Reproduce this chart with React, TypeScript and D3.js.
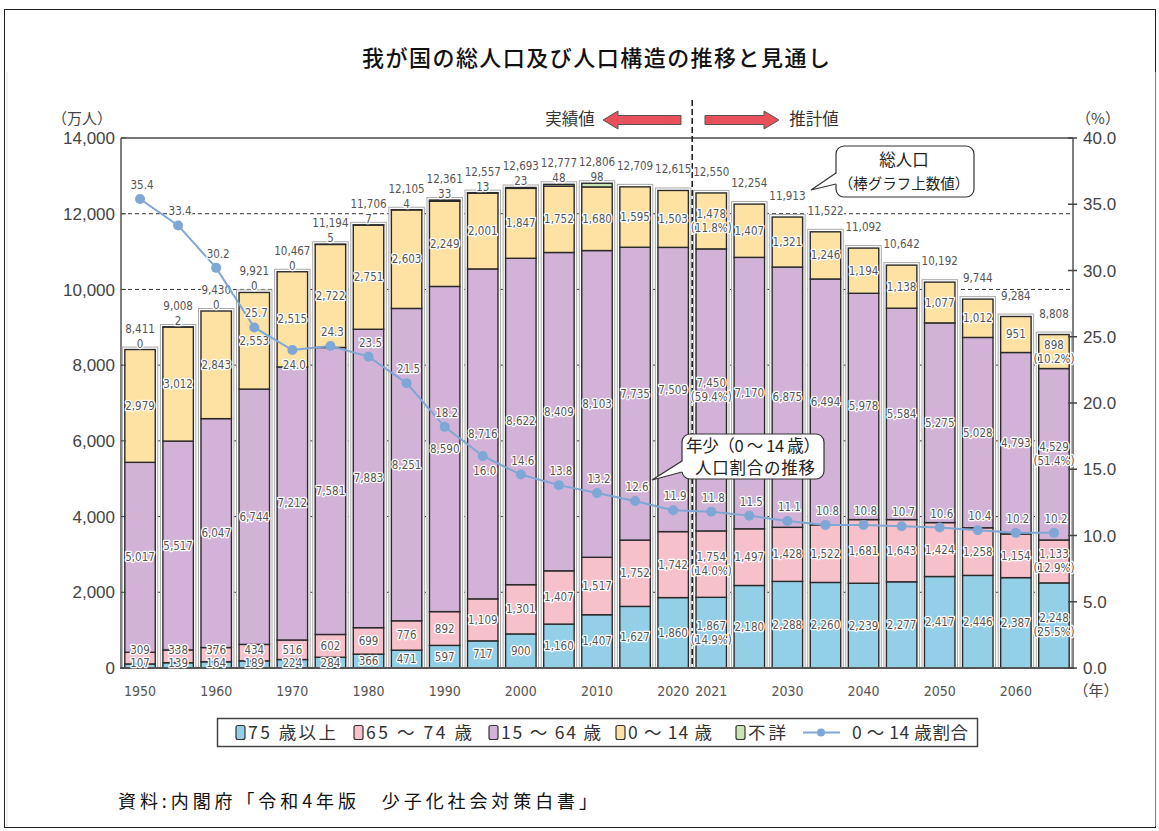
import React from 'react';
import * as d3 from 'd3';

const years = ['1950','1955','1960','1965','1970','1975','1980','1985','1990','1995','2000','2005','2010','2015','2020','2021','2025','2030','2035','2040','2045','2050','2055','2060','2065'];
const xTickLabels = ['1950','1960','1970','1980','1990','2000','2010','2020','2021','2030','2040','2050','2060'];
const age75plus = [107,139,164,189,224,284,366,471,597,717,900,1160,1407,1627,1860,1867,2180,2288,2260,2239,2277,2417,2446,2387,2248];
const age65to74 = [309,338,376,434,516,602,699,776,892,1109,1301,1407,1517,1752,1742,1754,1497,1428,1522,1681,1643,1424,1258,1154,1133];
const age15to64 = [5017,5517,6047,6744,7212,7581,7883,8251,8590,8716,8622,8409,8103,7735,7509,7450,7170,6875,6494,5978,5584,5275,5028,4793,4529];
const age0to14 = [2979,3012,2843,2553,2515,2722,2751,2603,2249,2001,1847,1752,1680,1595,1503,1478,1407,1321,1246,1194,1138,1077,1012,951,898];
const unknownAge: (number | null)[] = [0,2,0,0,0,5,7,4,33,13,23,48,98,null,null,null,null,null,null,null,null,null,null,null,null];
const totals = [8411,9008,9430,9921,10467,11194,11706,12105,12361,12557,12693,12777,12806,12709,12615,12550,12254,11913,11522,11092,10642,10192,9744,9284,8808];
const youthRatio = [35.4,33.4,30.2,25.7,24.0,24.3,23.5,21.5,18.2,16.0,14.6,13.8,13.2,12.6,11.9,11.8,11.5,11.1,10.8,10.8,10.7,10.6,10.4,10.2,10.2];
const ratioLabelBelow = ['1970','1995'];
const shareLabels: Record<string, string[]> = {
  '2021': ['14.9%','14.0%','59.4%','11.8%'],
  '2065': ['25.5%','12.9%','51.4%','10.2%'],
};
const yTicks = [0,2000,4000,6000,8000,10000,12000,14000];
const y2Ticks = [0,5,10,15,20,25,30,35,40];
const dashedGrid = [2000,4000,6000,8000,10000,12000];

const seriesNames = ['75 歳以上','65 ～ 74 歳','15 ～ 64 歳','0 ～ 14 歳','不詳'];
const lineName = '0 ～ 14 歳割合';
const seriesColors = ['#93cfe7','#f7c1cb','#d3b2d8','#fde2a4','#c8e4b2'];
const lineColor = '#7ea7d6';

const NUM = "'DejaVu Sans Condensed','DejaVu Sans',sans-serif";
const JP = "'Noto Sans CJK JP','Noto Sans',sans-serif";
const AX = "'Liberation Sans',Arial,sans-serif";

const fmt = d3.format(',');

export default function App() {
  const W = 1159, H = 831;
  const L = 121, R = 1073, T = 138, B = 668;
  const x = d3.scaleBand<string>().domain(years).range([L, R]).paddingInner(0.2).paddingOuter(0.1);
  const y = d3.scaleLinear().domain([0, 14000]).range([B, T]);
  const y2 = d3.scaleLinear().domain([0, 40]).range([B, T]);
  const bw = x.bandwidth();

  const rows = years.map((yr, i) => ({
    year: yr,
    s0: age75plus[i], s1: age65to74[i], s2: age15to64[i], s3: age0to14[i], s4: unknownAge[i] ?? 0,
  }));
  const stack = d3.stack<any>().keys(['s0','s1','s2','s3','s4'])(rows);

  const line = d3.line<number>().x((_, i) => (x(years[i]) as number) + bw / 2).y(d => y2(d));

  const halo = { stroke: '#fff', strokeWidth: 2.6, paintOrder: 'stroke' as any, strokeLinejoin: 'round' as any };
  const numStyle = { fontFamily: NUM, fontSize: 11.5, fill: '#555', fontStretch: 'condensed' as any };
  const jpLabel = { fontFamily: JP, fontSize: 16.5, fill: '#333' };

  const dividerX = ((x('2020') as number) + bw + (x('2021') as number)) / 2;

  const legendSwatchX = [236, 354, 489, 616, 736];
  const legendTextLen = [88, 106, 100, 84, 38];

  return (
    <svg width={W} height={H} style={{ display: 'block', position: 'absolute', left: 0, top: 0 }}>
      <rect x={0} y={0} width={W} height={H} fill="#fff" />
      <rect x={4.5} y={9.5} width={1151} height={818} fill="none" stroke="#222" strokeWidth={1} />
      <line x1={7} y1={72} x2={7} y2={826} stroke="#e4e4e4" />
      <line x1={1156} y1={72} x2={1156} y2={826} stroke="#e4e4e4" />

      {/* title */}
      <text x={362} y={66} textLength={468} lengthAdjust="spacing" style={{ fontFamily: JP, fontSize: 22, fontWeight: 500, fill: '#111' }}>我が国の総人口及び人口構造の推移と見通し</text>

      {/* axis titles */}
      <text x={82} y={124} textAnchor="middle" style={{ fontFamily: JP, fontSize: 15, fill: '#444' }}>（万人）</text>
      <text x={1098} y={124} textAnchor="middle" style={{ fontFamily: JP, fontSize: 15, fill: '#444' }}>（%）</text>
      <text x={1096} y={696} textAnchor="middle" style={{ fontFamily: JP, fontSize: 15, fill: '#444' }}>（年）</text>

      {/* gridlines */}
      {dashedGrid.map(v => (
        <line key={v} x1={L} x2={R} y1={y(v)} y2={y(v)} stroke="#333" strokeWidth={1} strokeDasharray="4,3" />
      ))}

      {/* plot frame */}
      <line x1={L} x2={R} y1={T} y2={T} stroke="#777" strokeWidth={2} />
      <line x1={R} x2={R} y1={T} y2={B} stroke="#555" strokeWidth={1.5} />
      <line x1={L} x2={L} y1={T} y2={B} stroke="#555" strokeWidth={1.5} />

      {/* bars */}
      {years.map((yr, i) => {
        const bx = x(yr) as number;
        return (
          <rect key={'h' + yr} x={bx - 2.5} y={y(totals[i]) - 2.5} width={bw + 5} height={B - y(totals[i]) + 2.5}
            fill="#fff" stroke="#aaa" strokeWidth={1} />
        );
      })}
      {stack.map((layer, k) => (
        <g key={'L' + k}>
          {layer.map((d, i) => {
            if (d[1] - d[0] <= 0) return null;
            const bx = x(years[i]) as number;
            return (
              <rect key={i} x={bx} y={y(d[1])} width={bw} height={y(d[0]) - y(d[1])}
                fill={seriesColors[k]} stroke="#2a2a2a" strokeWidth={1.4} />
            );
          })}
        </g>
      ))}

      {/* axis baseline */}
      <line x1={L - 1} x2={R + 1} y1={B} y2={B} stroke="#555" strokeWidth={2} />

      {/* left ticks */}
      {yTicks.map(v => (
        <g key={'yt' + v}>
          <line x1={L} x2={L + 5} y1={y(v)} y2={y(v)} stroke="#444" />
          <text x={115} y={y(v)} dy="0.36em" textAnchor="end" style={{ fontFamily: AX, fontSize: 17, fill: '#444' }}>{fmt(v)}</text>
        </g>
      ))}
      {/* right ticks */}
      {y2Ticks.map(v => (
        <g key={'y2t' + v}>
          <line x1={R - 5} x2={R + 4} y1={y2(v)} y2={y2(v)} stroke="#444" strokeWidth={1.5} />
          <text x={1083} y={y2(v)} dy="0.36em" textAnchor="start" style={{ fontFamily: AX, fontSize: 17, fill: '#444' }}>{v.toFixed(1)}</text>
        </g>
      ))}
      {/* x tick labels */}
      {xTickLabels.map(t => (
        <text key={'xt' + t} x={(x(t) as number) + bw / 2} y={696} textAnchor="middle" style={{ fontFamily: NUM, fontSize: 14, fill: '#555', fontStretch: 'condensed' as any }}>{t}</text>
      ))}

      {/* divider */}
      <line x1={dividerX} x2={dividerX} y1={100} y2={B} stroke="#222" strokeWidth={1.6} strokeDasharray="6,3" />

      {/* segment labels */}
      {years.map((yr, i) => {
        const cx = (x(yr) as number) + bw / 2;
        const b0 = 0, b1 = age75plus[i], b2 = b1 + age65to74[i], b3 = b2 + age15to64[i], b4 = b3 + age0to14[i];
        const c75 = Math.min((y(b0) + y(b1)) / 2, B - 5);
        const c65 = Math.min((y(b1) + y(b2)) / 2, c75 - 13);
        const c15 = (y(b2) + y(b3)) / 2;
        const c0 = (y(b3) + y(b4)) / 2;
        const vals = [age75plus[i], age65to74[i], age15to64[i], age0to14[i]];
        const cys = [c75, c65, c15, c0];
        const shares = shareLabels[yr];
        const topY = y(totals[i]);
        return (
          <g key={'lab' + yr} textAnchor="middle" style={numStyle}>
            {vals.map((v, k) => shares ? (
              <g key={k}>
                <text x={cx} y={cys[k] - 7} dominantBaseline="central" {...halo}>{fmt(v)}</text>
                <text x={cx} y={cys[k] + 7} dominantBaseline="central" {...halo}>({shares[k]})</text>
              </g>
            ) : (
              <text key={k} x={cx} y={cys[k]} dominantBaseline="central" {...halo}>{fmt(v)}</text>
            ))}
            {unknownAge[i] !== null && (
              <text x={cx} y={topY - 6} dominantBaseline="central" {...halo}>{fmt(unknownAge[i] as number)}</text>
            )}
            <text x={cx} y={topY - 21} dominantBaseline="central" {...halo}>{fmt(totals[i])}</text>
          </g>
        );
      })}

      {/* youth ratio line */}
      <path d={line(youthRatio) as string} fill="none" stroke={lineColor} strokeWidth={2} />
      {youthRatio.map((v, i) => {
        const cx = (x(years[i]) as number) + bw / 2;
        const below = ratioLabelBelow.includes(years[i]);
        return (
          <g key={'pt' + i}>
            <circle cx={cx} cy={y2(v)} r={5} fill={lineColor} />
            <text x={cx + 2} y={below ? y2(v) + 15 : y2(v) - 14} dominantBaseline="central" textAnchor="middle" style={numStyle} {...halo}>{v.toFixed(1)}</text>
          </g>
        );
      })}

      {/* arrows */}
      <path d="M603,120 L618,111 L618,115.5 L681,115.5 L681,124.5 L618,124.5 L618,129 Z" fill="#e8505b" stroke="#555" strokeWidth={1} />
      <path d="M779,120 L764,111 L764,115.5 L705,115.5 L705,124.5 L764,124.5 L764,129 Z" fill="#e8505b" stroke="#555" strokeWidth={1} />
      <text x={570} y={125} textAnchor="middle" style={jpLabel}>実績値</text>
      <text x={814} y={125} textAnchor="middle" style={jpLabel}>推計値</text>

      {/* callout: total population */}
      <rect x={836} y={146} width={138} height={51} rx={8} fill="#fff" stroke="#333" strokeWidth={1.2} />
      <polygon points="837,173 811,190 837,184" fill="#fff" />
      <polyline points="836,173 811,190 836,184" fill="none" stroke="#333" strokeWidth={1.2} />
      <text x={904} y={166} textAnchor="middle" style={{ ...jpLabel, fill: '#222' }}>総人口</text>
      <text x={904} y={189} textAnchor="middle" style={{ ...jpLabel, fontSize: 14.5, fill: '#222' }}>（棒グラフ上数値）</text>

      {/* callout: youth ratio */}
      <rect x={682} y={434} width={142} height={45} rx={8} fill="#fff" stroke="#333" strokeWidth={1.2} />
      <polygon points="683,461 652,480 683,472" fill="#fff" />
      <polyline points="682,461 652,480 682,472" fill="none" stroke="#333" strokeWidth={1.2} />
      <text x={753} y={452} textAnchor="middle" textLength={134} lengthAdjust="spacing" style={{ ...jpLabel, fill: '#222' }}>年少（0 ～ 14 歳）</text>
      <text x={755} y={474} textAnchor="middle" textLength={120} lengthAdjust="spacing" style={{ ...jpLabel, fill: '#222' }}>人口割合の推移</text>

      {/* legend */}
      <rect x={217.5} y={718.5} width={760} height={28} fill="#fff" stroke="#444" strokeWidth={1.5} />
      {seriesNames.map((n, k) => {
        const sx = legendSwatchX[k];
        return (
          <g key={'lg' + k}>
            <rect x={sx} y={725.5} width={9} height={14} rx={2} fill={seriesColors[k]} stroke="#333" strokeWidth={1.2} />
            <text x={sx + 12} y={738.5} textLength={legendTextLen[k]} lengthAdjust="spacing" style={{ fontFamily: JP, fontSize: 17.5, fill: '#333' }}>{n}</text>
          </g>
        );
      })}
      <line x1={803} x2={840} y1={732.5} y2={732.5} stroke={lineColor} strokeWidth={2} />
      <circle cx={821} cy={732.5} r={4} fill={lineColor} />
      <text x={852} y={738.5} textLength={116} lengthAdjust="spacing" style={{ fontFamily: JP, fontSize: 17.5, fill: '#333' }}>{lineName}</text>

      {/* source */}
      <text x={118} y={808} textLength={479} lengthAdjust="spacing" style={{ fontFamily: JP, fontSize: 18, fill: '#111' }}>資料:内閣府「令和4年版　少子化社会対策白書」</text>
    </svg>
  );
}
